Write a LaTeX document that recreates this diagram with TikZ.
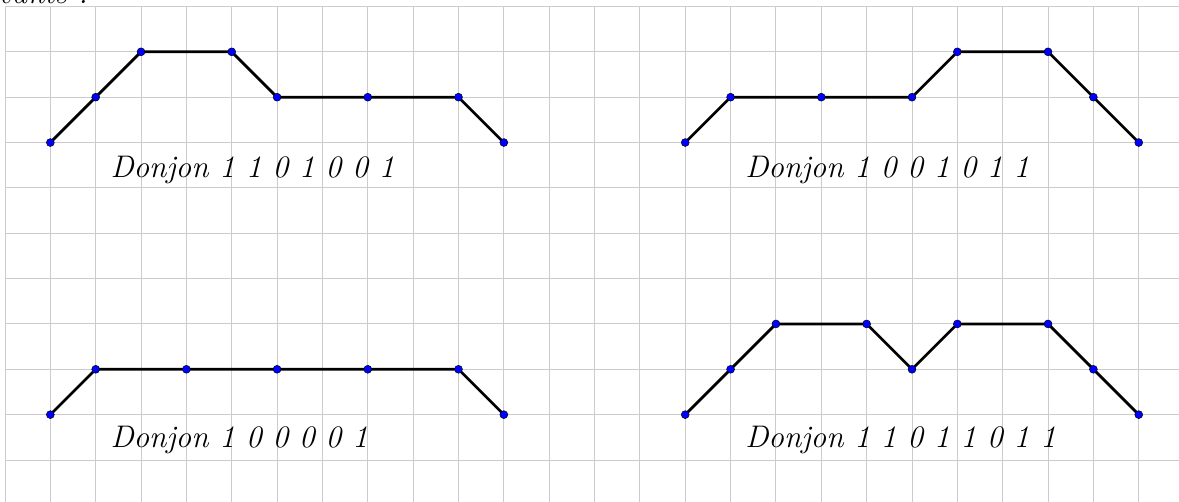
\documentclass[tikz,border=0pt]{standalone}
\begin{document}
\begin{tikzpicture}[
  gridline/.style={draw=black!20, line width=0.6pt},
  path/.style={draw=black, line width=1.7pt, line join=round},
  dot/.style={circle, fill=blue, draw=black, line width=0.3pt, inner sep=0pt, minimum size=1.75mm},
  label/.style={anchor=base west, inner sep=0pt, font=\fontsize{19.6}{24}\selectfont\itshape}
]
\useasboundingbox (-0.110,-0.926) rectangle (25.888,10.143);
\clip (-0.110,-0.926) rectangle (25.888,10.143);

% squared paper
\foreach \x in {0,...,25} \draw[gridline] (\x,-1) -- (\x,10);
\foreach \y in {0,...,10} \draw[gridline] (0,\y) -- (26,\y);

% end of the preceding line of text
\node[label, anchor=base east] (head) at (1.83,10.055) {vants :};

% Donjon 1 1 0 1 0 0 1
\foreach \n/\p in {a1/{1,7},a2/{2,8},a3/{3,9},a4/{5,9},a5/{6,8},a6/{8,8},a7/{10,8},a8/{11,7}}
  \coordinate (\n) at (\p);
\draw[path] (a1)--(a2)--(a3)--(a4)--(a5)--(a6)--(a7)--(a8);
\foreach \n in {a1,a2,a3,a4,a5,a6,a7,a8} \node[dot] at (\n) {};
\node[label] (la) at (2.32,6.24) {Donjon 1 1 0 1 0 0 1};

% Donjon 1 0 0 1 0 1 1
\foreach \n/\p in {b1/{15,7},b2/{16,8},b3/{18,8},b4/{20,8},b5/{21,9},b6/{23,9},b7/{24,8},b8/{25,7}}
  \coordinate (\n) at (\p);
\draw[path] (b1)--(b2)--(b3)--(b4)--(b5)--(b6)--(b7)--(b8);
\foreach \n in {b1,b2,b3,b4,b5,b6,b7,b8} \node[dot] at (\n) {};
\node[label] (lb) at (16.32,6.24) {Donjon 1 0 0 1 0 1 1};

% Donjon 1 0 0 0 0 1
\foreach \n/\p in {c1/{1,1},c2/{2,2},c3/{4,2},c4/{6,2},c5/{8,2},c6/{10,2},c7/{11,1}}
  \coordinate (\n) at (\p);
\draw[path] (c1)--(c2)--(c3)--(c4)--(c5)--(c6)--(c7);
\foreach \n in {c1,c2,c3,c4,c5,c6,c7} \node[dot] at (\n) {};
\node[label] (lc) at (2.32,0.265) {Donjon 1 0 0 0 0 1};

% Donjon 1 1 0 1 1 0 1 1
\foreach \n/\p in {d1/{15,1},d2/{16,2},d3/{17,3},d4/{19,3},d5/{20,2},d6/{21,3},d7/{23,3},d8/{24,2},d9/{25,1}}
  \coordinate (\n) at (\p);
\draw[path] (d1)--(d2)--(d3)--(d4)--(d5)--(d6)--(d7)--(d8)--(d9);
\foreach \n in {d1,d2,d3,d4,d5,d6,d7,d8,d9} \node[dot] at (\n) {};
\node[label] (ld) at (16.32,0.265) {Donjon 1 1 0 1 1 0 1 1};
\end{tikzpicture}
\end{document}
